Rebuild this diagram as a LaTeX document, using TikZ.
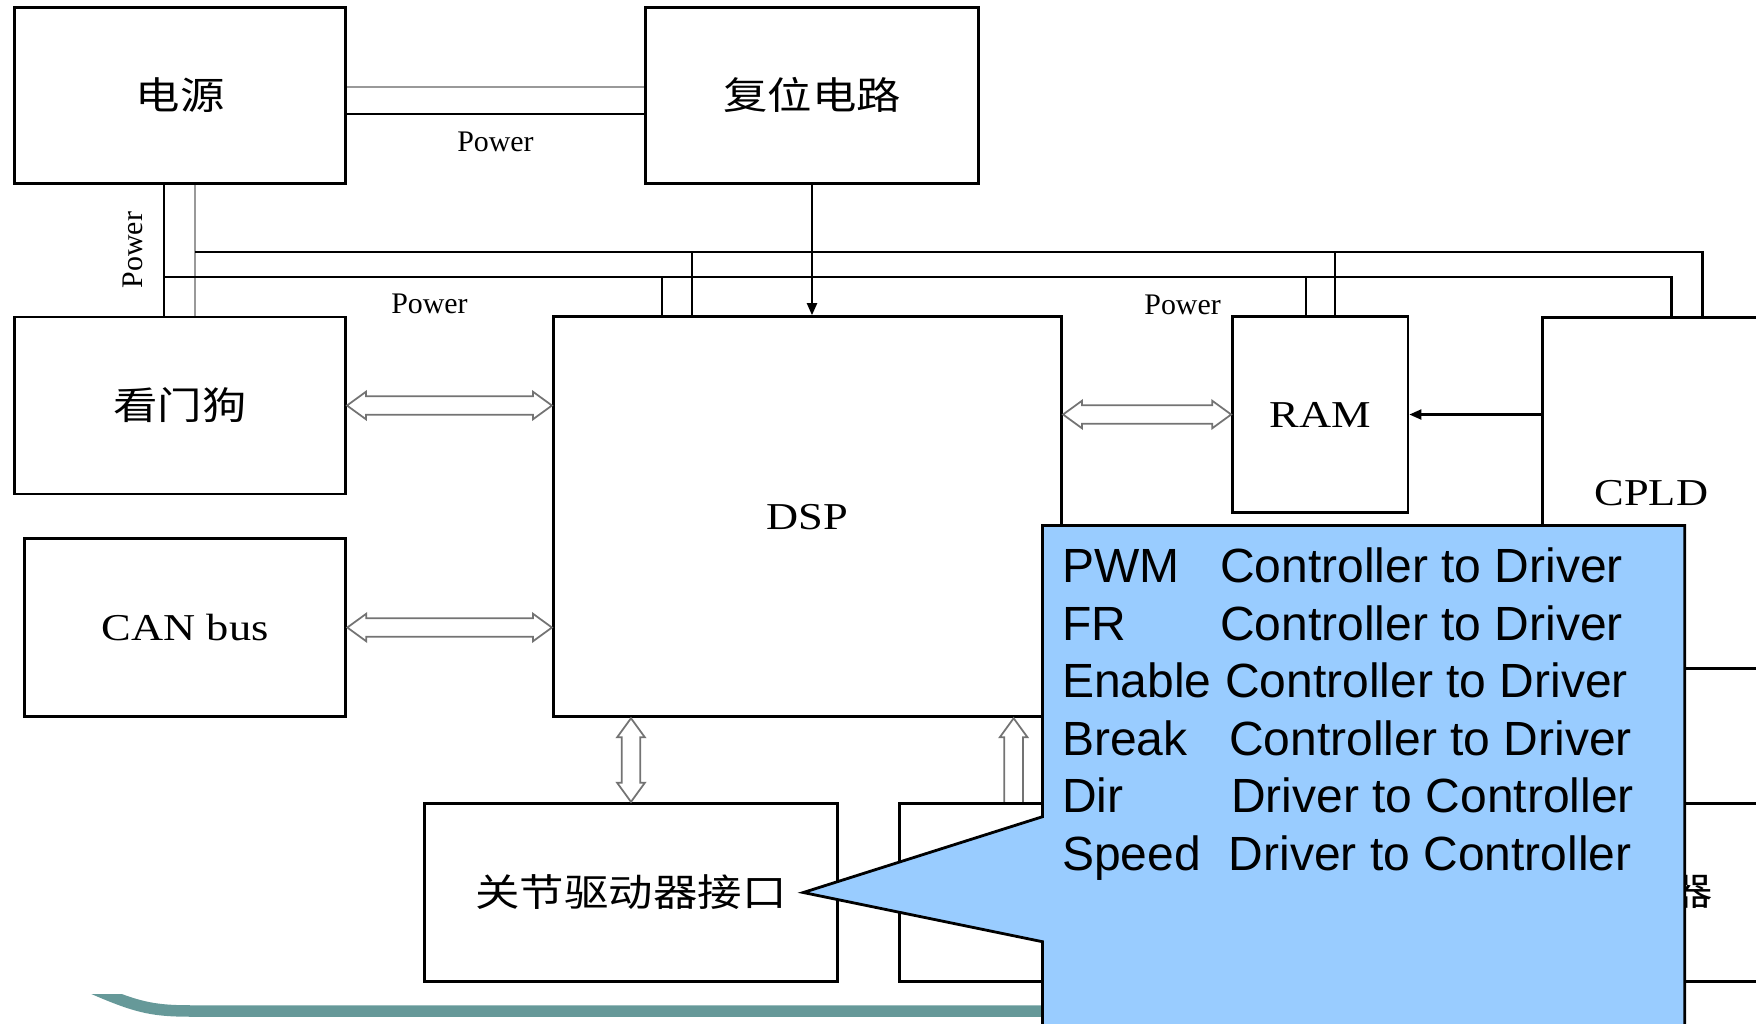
\documentclass[tikz,border=0pt]{standalone}
\usepackage{fontspec}
\setmainfont{Liberation Serif}
\newfontfamily\cjk{Noto Sans CJK SC}
\newfontfamily\arial{Liberation Sans}
\usetikzlibrary{arrows.meta,calc}
\definecolor{noteblue}{HTML}{99CCFF}
\definecolor{frameteal}{HTML}{669999}
\newcommand{\wide}[1]{\scalebox{1.17}[1]{#1}}
\begin{document}
\begin{tikzpicture}[x=0.01cm, y=-0.01cm, line width=0.6pt,
  block/.style={draw, line width=0.8pt, inner sep=0pt, font=\fontsize{10.8}{13}\selectfont},
  pwr/.style={font=\fontsize{8.5}{10}\selectfont, inner sep=0pt},
  hollow/.style={draw=black!55, line width=0.5pt},
  hollow h/.style={hollow, to path={let \p1=(\tikztostart), \p2=(\tikztotarget) in
    (\x1,\y1) -- (\x1+0.19cm,\y1+0.138cm) -- (\x1+0.19cm,\y1+0.093cm) -- (\x2-0.19cm,\y1+0.093cm)
    -- (\x2-0.19cm,\y1+0.138cm) -- (\x2,\y1) -- (\x2-0.19cm,\y1-0.138cm) -- (\x2-0.19cm,\y1-0.093cm)
    -- (\x1+0.19cm,\y1-0.093cm) -- (\x1+0.19cm,\y1-0.138cm) -- cycle}},
  hollow v/.style={hollow, to path={let \p1=(\tikztostart), \p2=(\tikztotarget) in
    (\x1,\y1) -- (\x1+0.138cm,\y1-0.19cm) -- (\x1+0.093cm,\y1-0.19cm) -- (\x1+0.093cm,\y2+0.19cm)
    -- (\x1+0.138cm,\y2+0.19cm) -- (\x1,\y2) -- (\x1-0.138cm,\y2+0.19cm) -- (\x1-0.093cm,\y2+0.19cm)
    -- (\x1-0.093cm,\y1-0.19cm) -- (\x1-0.138cm,\y1-0.19cm) -- cycle}},
  hollow up/.style={hollow, to path={let \p1=(\tikztostart), \p2=(\tikztotarget) in
    (\x1-0.093cm,\y1) -- (\x1-0.093cm,\y2-0.19cm) -- (\x1-0.138cm,\y2-0.19cm) -- (\x1,\y2)
    -- (\x1+0.138cm,\y2-0.19cm) -- (\x1+0.093cm,\y2-0.19cm) -- (\x1+0.093cm,\y1)}},
  sig/.style={-{Triangle[length=0.12cm,width=0.1cm]}},
  note/.style={anchor=base west, inner sep=0pt, font=\arial\fontsize{13.65}{16}\selectfont}]
\useasboundingbox (0,0) rectangle (1756,1023);
\node [block, minimum width=3.308cm, minimum height=1.76cm] (psu) at (180.1,95.3) {\wide{\cjk 电源}};
\node [block, minimum width=3.32cm, minimum height=1.76cm] (rst) at (812,95.3) {\wide{\cjk 复位电路}};
\node [block, minimum width=3.308cm, minimum height=1.77cm] (wd) at (180.1,405.5) {\wide{\cjk 看门狗}};
\node [block, minimum width=3.212cm, minimum height=1.784cm] (can) at (185.2,627.5) {\wide{CAN bus}};
\node [block, minimum width=5.08cm, minimum height=4cm] (dsp) at (807.5,516.7) {\wide{DSP}};
\node [block, minimum width=1.753cm, minimum height=1.956cm] (ram) at (1320.3,414.5) {\wide{RAM}};
\node [block, minimum width=2.17cm, minimum height=3.513cm] (cpld) at (1651.3,493.1) {\wide{CPLD}};
\node [block, minimum width=4.132cm, minimum height=1.784cm] (joint) at (631,892.5) {\wide{\cjk 关节驱动器接口}};
\node [block, minimum width=4.13cm, minimum height=1.784cm] (drv2) at (1105.9,892.5) {};
\node [block, minimum width=1.38cm, minimum height=1.78cm] (drv3) at (1691,892.4) {\wide{\cjk 器}};

\draw[black!40] ([yshift=0.08cm]psu.east) -- ([yshift=0.08cm]rst.west);
\draw ([yshift=-0.184cm]psu.east) -- ([yshift=-0.184cm]rst.west);
\node[pwr] (p1) at (495.5,141.7) {Power};
\draw ([xshift=-0.158cm]psu.south) -- ([xshift=-0.158cm]psu.south |- wd.north);
\draw[black!40] ([xshift=0.149cm]psu.south) -- ([xshift=0.149cm]psu.south |- wd.north);
\node[pwr, rotate=90] (p2) at (132.6,250) {Power};

\coordinate (busA) at (195,251.7);
\coordinate (busB) at (164.3,277);
\draw (busA) -| ([xshift=0.512cm]cpld.north);
\draw (busB) -| ([xshift=0.202cm]cpld.north);
\draw ([xshift=-1.155cm]dsp.north) -- ([xshift=-1.155cm]dsp.north |- busA);
\draw ([xshift=-1.455cm]dsp.north) -- ([xshift=-1.455cm]dsp.north |- busB);
\draw ([xshift=0.147cm]ram.north) -- ([xshift=0.147cm]ram.north |- busA);
\draw ([xshift=-0.145cm]ram.north) -- ([xshift=-0.145cm]ram.north |- busB);
\node[pwr] (p3) at (429.5,304) {Power};
\node[pwr] (p4) at (1182.6,305) {Power};

\draw[sig] (rst.south) -- (rst.south |- dsp.north);
\draw[sig] (ram.east -| cpld.west) -- (ram.east);

\draw[hollow h] (wd.east) to (wd.east -| dsp.west);
\draw[hollow h] (can.east) to (can.east -| dsp.west);
\draw[hollow h] (ram.west -| dsp.east) to (ram.west);
\draw[hollow v] (joint.north |- dsp.south) to (joint.north);
\draw[hollow up] ([xshift=-0.922cm]drv2.north) to ([xshift=-0.922cm]drv2.north |- dsp.south);

\begin{scope}
\clip (0,994.7) rectangle (1756,1023);
\draw[frameteal, line width=0.115cm] (92,988) .. controls (140,1009) and (155,1011) .. (195,1011) -- (1100,1011);
\end{scope}

\coordinate (tip) at ([xshift=-0.358cm]joint.east);
\filldraw[fill=noteblue, line width=0.8pt] (1042.5,525.5) -- (1684.8,525.5) -- (1684.8,1080) -- (1042.5,1080) -- (1042.5,941.7) -- (tip) -- (1042.5,816.7) -- cycle;
\foreach \sig/\dx/\txt [count=\k from 0] in {PWM/1219/Controller to Driver, FR/1219/Controller to Driver, Enable/1224/Controller to Driver, Break/1228/Controller to Driver, Dir/1230/Driver to Controller, Speed/1227.7/Driver to Controller}{
  \node[note] (s\k) at (1061, 582.7+57.46*\k) {\sig};
  \node[note] (d\k) at (\dx, 582.7+57.46*\k) {\txt};
}
\end{tikzpicture}
\end{document}
